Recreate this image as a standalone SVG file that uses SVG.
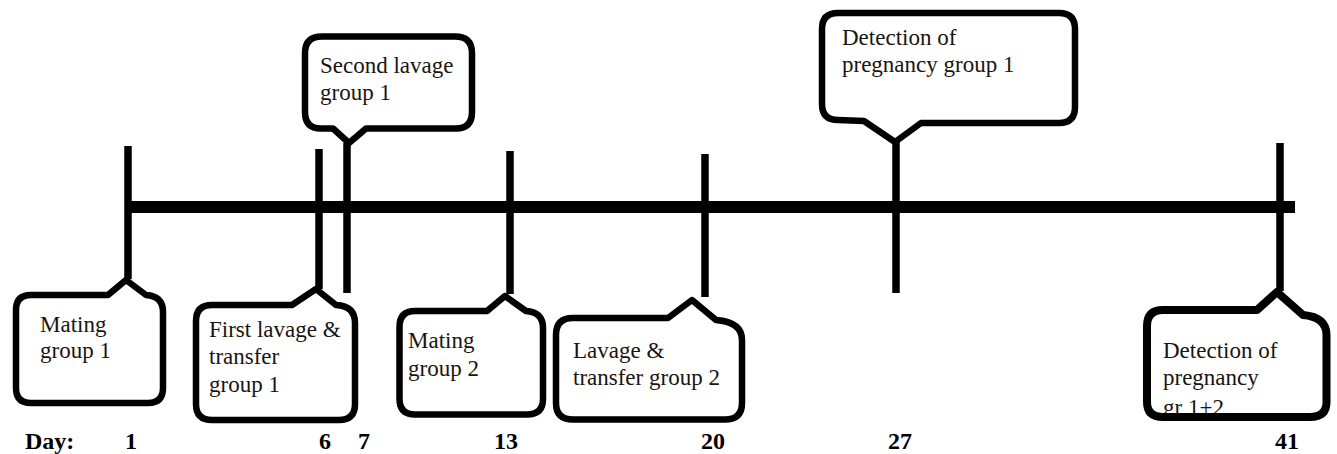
<svg xmlns="http://www.w3.org/2000/svg" width="1337" height="454" viewBox="0 0 1337 454">
<style>
.bub{fill:none;stroke:#000;stroke-width:6.5;stroke-linejoin:round}
.tk{stroke:#000;stroke-width:7.5;fill:none}
.t{font-family:"Liberation Serif","Times New Roman",serif;font-size:23px;fill:#1a1410}
.d{font-family:"Liberation Serif","Times New Roman",serif;font-size:24px;font-weight:bold;fill:#000}
</style>
<rect width="1337" height="454" fill="#fff"/>
<g id="connectors">
<rect x="128" y="201" width="1167" height="12" fill="#000"/>
<line class="tk" x1="128" y1="146" x2="128" y2="279"/>
<line class="tk" x1="319" y1="149" x2="319" y2="289"/>
<line class="tk" x1="347" y1="143" x2="347" y2="293"/>
<line class="tk" x1="510" y1="151" x2="510" y2="294"/>
<line class="tk" x1="705" y1="154" x2="705" y2="297"/>
<line class="tk" x1="896" y1="141" x2="896" y2="293"/>
<line class="tk" x1="1280" y1="143" x2="1280" y2="291"/>
</g>
<g id="mating1">
<text class="t" x="40" y="332">Mating</text>
<text class="t" x="40" y="358">group 1</text>
<path class="bub" d="M31,295 L108,295 L126,280 L146,295 Q163,296 163,312 L163,388 Q163,403 148,403 L31,403 Q16,403 16,388 L16,310 Q16,295 31,295 Z"/>
</g>
<g id="lavage1">
<text class="t" x="209" y="337">First lavage &amp;</text>
<text class="t" x="209" y="364">transfer</text>
<text class="t" x="209" y="392">group 1</text>
<path class="bub" d="M212,305 L292,305 L316,289 L336,305 Q355,306 355,323 L355,404 Q355,420 339,420 L212,420 Q196,420 196,404 L196,321 Q196,305 212,305 Z"/>
</g>
<g id="lavage2g1">
<text class="t" x="320" y="73">Second lavage</text>
<text class="t" x="320" y="100">group 1</text>
<path class="bub" d="M322,36.5 L455,36.5 Q472,36.5 472,53 L472,112 Q472,128.5 456,128.5 L366,128.5 L349,143 L333,128.5 L321,128.5 Q305,128.5 305,112 L305,53 Q305,36.5 322,36.5 Z"/>
</g>
<g id="mating2">
<text class="t" x="408" y="348">Mating</text>
<text class="t" x="408" y="376">group 2</text>
<path class="bub" d="M415,311 L487,311 L505,296 L526,311 Q543,312 543,328 L543,399 Q543,414.5 527,414.5 L415,414.5 Q399.5,414.5 399.5,399 L399.5,327 Q399.5,311 415,311 Z"/>
</g>
<g id="lavage2">
<text class="t" x="573" y="358">Lavage &amp;</text>
<text class="t" x="573" y="385">transfer group 2</text>
<path class="bub" d="M573,318 L668,318 L692,300 L716,320 Q742,322 742,340 L742,403 Q742,419.5 725,419.5 L573,419.5 Q556,419.5 556,403 L556,335 Q556,318 573,318 Z"/>
</g>
<g id="detect1">
<text class="t" x="842" y="45">Detection of</text>
<text class="t" x="842" y="72">pregnancy group 1</text>
<path class="bub" d="M838,13 L1059,13 Q1075,13 1075,29 L1075,107 Q1075,123 1059,123 L921,123 L895,142 L864,121 L838,120 Q822,120 822,104 L822,29 Q822,13 838,13 Z"/>
</g>
<g id="detect12">
<text class="t" x="1163" y="358">Detection of</text>
<text class="t" x="1163" y="385">pregnancy</text>
<text class="t" x="1163" y="415">gr 1+2</text>
<path class="bub" d="M1163,310 L1257,310 L1277,292 L1303,315 Q1326.5,317 1326.5,335 L1326.5,402 Q1326.5,417 1310,417 L1163,417 Q1147,417 1147,402 L1147,326 Q1147,310 1163,310 Z" style="stroke-width:8"/>
</g>
<g id="days">
<text class="d" x="25" y="449">Day:</text>
<text class="d" x="131" y="449" text-anchor="middle">1</text>
<text class="d" x="325" y="449" text-anchor="middle">6</text>
<text class="d" x="364" y="449" text-anchor="middle">7</text>
<text class="d" x="506" y="449" text-anchor="middle">13</text>
<text class="d" x="713" y="449" text-anchor="middle">20</text>
<text class="d" x="900" y="449" text-anchor="middle">27</text>
<text class="d" x="1287" y="449" text-anchor="middle">41</text>
</g>
</svg>
